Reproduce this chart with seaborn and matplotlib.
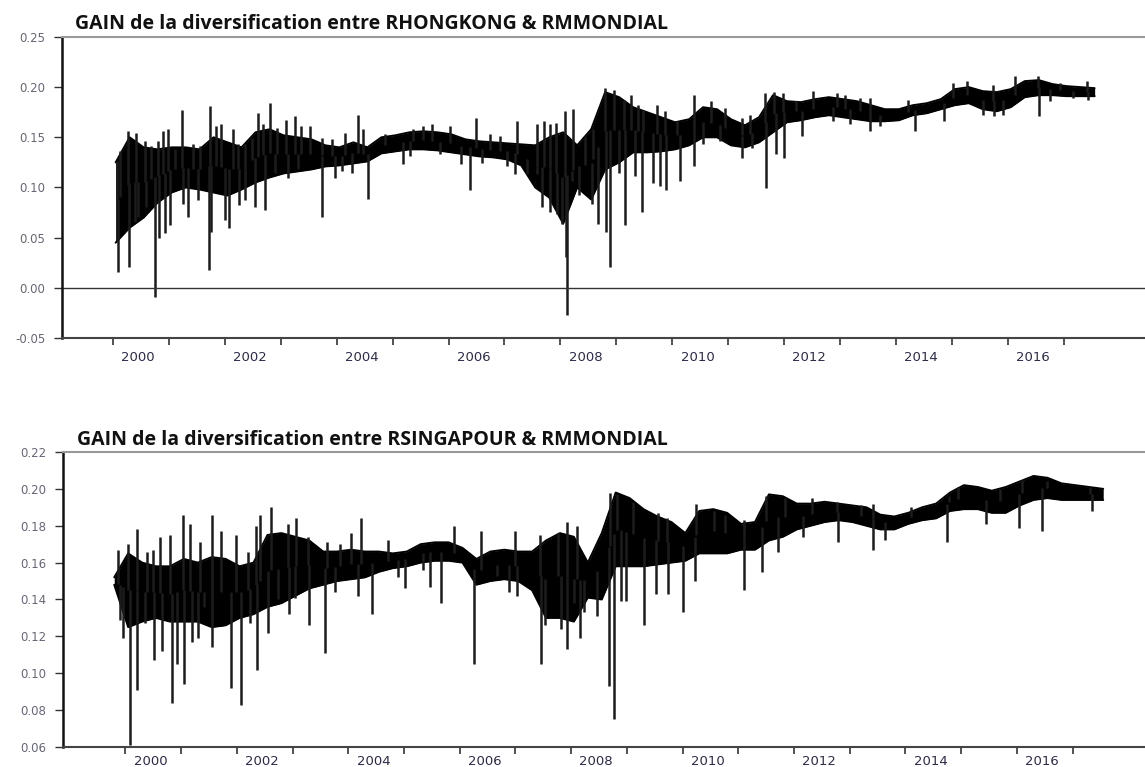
import numpy as np
import matplotlib
matplotlib.use("Agg")
import matplotlib.pyplot as plt
from matplotlib.ticker import FixedLocator, FormatStrFormatter
import seaborn as sns

# quarterly grid (decimal years) and the dense band
HK_DATES = np.arange(2000.05, 2017.56, 0.25)
HK_HIGH = [0.125, 0.150, 0.140, 0.138, 0.140, 0.140, 0.138, 0.150, 0.145, 0.140,
           0.155, 0.158, 0.152, 0.150, 0.148, 0.142, 0.140, 0.145, 0.140, 0.150,
           0.152, 0.155, 0.156, 0.155, 0.153, 0.148, 0.146, 0.145, 0.144, 0.143,
           0.142, 0.150, 0.155, 0.142, 0.158, 0.195, 0.190, 0.180, 0.175, 0.170,
           0.165, 0.168, 0.180, 0.178, 0.168, 0.162, 0.170, 0.192, 0.186, 0.185,
           0.188, 0.190, 0.188, 0.186, 0.182, 0.178, 0.178, 0.182, 0.184, 0.188,
           0.198, 0.200, 0.196, 0.195, 0.198, 0.206, 0.207, 0.203, 0.201, 0.200,
           0.199]
HK_LOW = [0.045, 0.060, 0.070, 0.085, 0.095, 0.100, 0.098, 0.095, 0.092, 0.098,
          0.105, 0.110, 0.114, 0.116, 0.118, 0.121, 0.122, 0.124, 0.126, 0.134,
          0.136, 0.138, 0.138, 0.137, 0.135, 0.133, 0.131, 0.130, 0.128, 0.122,
          0.100, 0.090, 0.064, 0.100, 0.088, 0.118, 0.125, 0.135, 0.135, 0.136,
          0.138, 0.142, 0.150, 0.150, 0.142, 0.140, 0.145, 0.155, 0.165, 0.167,
          0.170, 0.172, 0.170, 0.168, 0.166, 0.166, 0.167, 0.172, 0.174, 0.178,
          0.182, 0.184, 0.178, 0.176, 0.180, 0.190, 0.192, 0.192, 0.191, 0.191,
          0.191]
HK_SPIKE_X = [2000.07, 2000.10, 2000.12, 2000.27, 2000.29, 2000.39, 2000.42, 2000.45,
              2000.57, 2000.60, 2000.69, 2000.76, 2000.81, 2000.82, 2000.90, 2000.94,
              2000.99, 2001.03, 2001.11, 2001.24, 2001.25, 2001.35, 2001.44, 2001.52,
              2001.56, 2001.72, 2001.73, 2001.75, 2001.85, 2001.94, 2002.00, 2002.08,
              2002.15, 2002.24, 2002.25, 2002.36, 2002.37, 2002.48, 2002.54, 2002.59,
              2002.69, 2002.72, 2002.81, 2002.90, 2002.93, 2003.10, 2003.13, 2003.25,
              2003.31, 2003.37, 2003.52, 2003.73, 2003.74, 2003.91, 2003.97, 2004.10,
              2004.15, 2004.27, 2004.39, 2004.48, 2004.56, 2004.86,
              2005.19, 2005.31, 2005.37, 2005.55, 2005.70, 2005.85, 2006.03, 2006.23,
              2006.38, 2006.50, 2006.59, 2006.74, 2006.92, 2007.04, 2007.19, 2007.22,
              2007.40, 2007.58, 2007.59, 2007.67, 2007.70, 2007.81, 2007.82, 2007.93,
              2007.94, 2008.02, 2008.08, 2008.10, 2008.11, 2008.20, 2008.23, 2008.34,
              2008.44, 2008.56, 2008.59, 2008.68, 2008.80, 2008.81, 2008.89, 2008.95,
              2009.05, 2009.13, 2009.15, 2009.26, 2009.33, 2009.39, 2009.45, 2009.48,
              2009.66, 2009.72, 2009.78, 2009.87, 2009.89, 2010.08, 2010.14,
              2010.38, 2010.39, 2010.55, 2010.70, 2010.85, 2010.94, 2011.24, 2011.25,
              2011.39, 2011.42, 2011.66, 2011.67, 2011.81, 2011.85, 2011.98, 2011.99,
              2012.22, 2012.31, 2012.52, 2012.88, 2012.94, 2013.09, 2013.18, 2013.36,
              2013.53, 2013.54, 2013.71, 2014.22, 2014.34, 2014.85, 2015.02, 2015.26,
              2015.56, 2015.74, 2015.75, 2015.92, 2016.13, 2016.54, 2016.56, 2016.75,
              2016.93, 2017.17, 2017.41, 2017.44]
HK_SPIKE_Y = [0.126, 0.016, 0.136, 0.156, 0.021, 0.066, 0.154, 0.071,
              0.146, 0.081, 0.141, -0.009, 0.146, 0.050, 0.156, 0.055,
              0.158, 0.063, 0.138, 0.177, 0.084, 0.071, 0.143, 0.088,
              0.141, 0.018, 0.181, 0.056, 0.161, 0.163, 0.068, 0.060,
              0.158, 0.143, 0.083, 0.143, 0.088, 0.149, 0.081, 0.174,
              0.163, 0.078, 0.184, 0.114, 0.159, 0.167, 0.109, 0.171,
              0.118, 0.161, 0.161, 0.149, 0.071, 0.148, 0.109, 0.116,
              0.154, 0.114, 0.172, 0.158, 0.089, 0.153,
              0.123, 0.131, 0.158, 0.161, 0.163, 0.133, 0.161, 0.123,
              0.098, 0.169, 0.124, 0.153, 0.151, 0.121, 0.113, 0.166,
              0.113, 0.163, 0.113, 0.081, 0.166, 0.163, 0.076, 0.164,
              0.074, 0.064, 0.176, 0.031, -0.027, 0.106, 0.178, 0.093,
              0.151, 0.084, 0.158, 0.064, 0.199, 0.056, 0.021, 0.197,
              0.114, 0.187, 0.063, 0.192, 0.111, 0.182, 0.076, 0.177,
              0.104, 0.182, 0.101, 0.176, 0.098, 0.166, 0.106,
              0.192, 0.121, 0.143, 0.186, 0.146, 0.179, 0.169, 0.129,
              0.172, 0.139, 0.194, 0.099, 0.195, 0.133, 0.194, 0.129,
              0.186, 0.151, 0.196, 0.166, 0.194, 0.192, 0.163, 0.189,
              0.189, 0.156, 0.161, 0.187, 0.156, 0.166, 0.204, 0.206,
              0.172, 0.202, 0.171, 0.172, 0.211, 0.211, 0.171, 0.186,
              0.204, 0.189, 0.206, 0.187]

SG_DATES = np.arange(1999.8, 2017.56, 0.25)
SG_HIGH = [0.152, 0.165, 0.160, 0.158, 0.158, 0.162, 0.160, 0.163, 0.162, 0.158,
           0.160, 0.175, 0.176, 0.174, 0.172, 0.166, 0.166, 0.167, 0.166, 0.166,
           0.165, 0.166, 0.170, 0.171, 0.171, 0.168, 0.162, 0.166, 0.167, 0.166,
           0.166, 0.172, 0.176, 0.174, 0.160, 0.176, 0.198, 0.195, 0.189, 0.185,
           0.182, 0.176, 0.188, 0.189, 0.187, 0.181, 0.182, 0.197, 0.196, 0.192,
           0.192, 0.193, 0.192, 0.191, 0.190, 0.186, 0.185, 0.187, 0.190, 0.192,
           0.198, 0.202, 0.201, 0.199, 0.201, 0.204, 0.207, 0.206, 0.203, 0.202,
           0.201, 0.200]
SG_LOW = [0.148, 0.125, 0.128, 0.130, 0.128, 0.128, 0.128, 0.125, 0.126, 0.130,
          0.132, 0.136, 0.138, 0.142, 0.146, 0.148, 0.150, 0.151, 0.152, 0.155,
          0.157, 0.158, 0.160, 0.161, 0.161, 0.160, 0.148, 0.150, 0.151, 0.150,
          0.145, 0.130, 0.130, 0.128, 0.141, 0.140, 0.158, 0.158, 0.158, 0.159,
          0.160, 0.161, 0.165, 0.165, 0.165, 0.167, 0.167, 0.172, 0.174, 0.178,
          0.180, 0.182, 0.183, 0.182, 0.180, 0.178, 0.178, 0.181, 0.183, 0.184,
          0.188, 0.189, 0.189, 0.187, 0.187, 0.191, 0.194, 0.195, 0.194, 0.194,
          0.194, 0.194]
SG_SPIKE_X = [1999.87, 1999.90, 1999.96, 2000.04, 2000.08, 2000.20, 2000.21, 2000.35,
              2000.38, 2000.50, 2000.52, 2000.62, 2000.65, 2000.80, 2000.83, 2000.92,
              2001.04, 2001.05, 2001.16, 2001.19, 2001.31, 2001.34, 2001.41, 2001.55,
              2001.56, 2001.72, 2001.89, 2001.99, 2002.08, 2002.20, 2002.23, 2002.35,
              2002.36, 2002.41, 2002.56, 2002.61, 2002.74, 2002.92, 2002.93, 2003.04,
              2003.06, 2003.28, 2003.29, 2003.58, 2003.61, 2003.76, 2003.85, 2004.05,
              2004.18, 2004.23, 2004.42, 2004.72, 2004.90,
              2005.01, 2005.34, 2005.46, 2005.66, 2005.90, 2006.25, 2006.38, 2006.67,
              2006.88, 2007.00, 2007.02, 2007.45, 2007.46, 2007.53, 2007.77, 2007.81,
              2007.92, 2007.93, 2008.06, 2008.10, 2008.16, 2008.24, 2008.46, 2008.68,
              2008.69, 2008.77, 2008.83, 2008.89, 2008.99, 2009.11, 2009.31, 2009.52,
              2009.56, 2009.72, 2009.73, 2010.00, 2010.22, 2010.25, 2010.57, 2010.77,
              2011.10, 2011.11, 2011.42, 2011.50, 2011.71, 2011.83, 2012.17, 2012.32,
              2012.77, 2012.79, 2013.21, 2013.41, 2013.42, 2013.63, 2014.10, 2014.75,
              2014.79, 2014.95, 2015.44, 2015.69, 2016.03, 2016.09, 2016.46, 2016.54,
              2017.31, 2017.35]
SG_SPIKE_Y = [0.167, 0.129, 0.119, 0.170, 0.061, 0.178, 0.091, 0.127,
              0.166, 0.167, 0.107, 0.174, 0.112, 0.175, 0.084, 0.105,
              0.186, 0.094, 0.181, 0.117, 0.119, 0.171, 0.136, 0.186,
              0.114, 0.177, 0.092, 0.175, 0.083, 0.166, 0.127, 0.180,
              0.102, 0.186, 0.122, 0.190, 0.140, 0.181, 0.132, 0.141,
              0.184, 0.174, 0.126, 0.111, 0.171, 0.144, 0.170, 0.176,
              0.142, 0.184, 0.132, 0.172, 0.152,
              0.146, 0.156, 0.147, 0.138, 0.180, 0.105, 0.177, 0.153,
              0.144, 0.177, 0.142, 0.175, 0.105, 0.126, 0.176, 0.124,
              0.113, 0.182, 0.138, 0.180, 0.119, 0.133, 0.131, 0.093,
              0.198, 0.075, 0.197, 0.139, 0.139, 0.193, 0.126, 0.143,
              0.187, 0.184, 0.143, 0.133, 0.150, 0.192, 0.188, 0.186,
              0.183, 0.145, 0.155, 0.196, 0.166, 0.195, 0.174, 0.195,
              0.193, 0.171, 0.191, 0.192, 0.167, 0.172, 0.190, 0.171,
              0.196, 0.201, 0.181, 0.200, 0.179, 0.205, 0.177, 0.204,
              0.201, 0.188]

YEARS = list(range(2000, 2018))
LABEL_YEARS = list(range(2000, 2017, 2))

sns.set_style("ticks")
plt.rcParams["font.family"] = ["DejaVu Sans"]


def draw_panel(ax, dates, high, low, spike_x, spike_y, xlim, ylim, yticks, label_pad):
    high = np.asarray(high)
    low = np.asarray(low)
    ax.fill_between(dates, low, high, color="black", lw=0)
    sns.lineplot(x=dates, y=high, color="black", lw=1.4, ax=ax)
    sns.lineplot(x=dates, y=low, color="black", lw=1.4, ax=ax)
    base = np.interp(spike_x, dates, (high + low) / 2)
    ax.vlines(spike_x, base, spike_y, color="#1c1c1c", lw=1.8)

    ax.set_xlim(*xlim)
    ax.set_ylim(*ylim)
    ax.set_yticks(yticks)
    ax.yaxis.set_major_formatter(FormatStrFormatter("%.2f"))
    # year boundaries carry the tick marks, labels sit in the middle of the year
    ax.set_xticks(YEARS)
    ax.set_xticklabels([])
    ax.xaxis.set_minor_locator(FixedLocator([y + 0.45 for y in LABEL_YEARS]))
    ax.set_xticklabels([str(y) for y in LABEL_YEARS], minor=True)
    ax.tick_params(axis="x", which="major", length=5, width=1.2, color="#333")
    ax.tick_params(axis="x", which="minor", length=0, pad=label_pad, labelsize=9.5,
                   labelcolor="#2b2b4a")
    ax.tick_params(axis="y", length=6, width=1, color="#333", pad=6,
                   labelsize=8.5, labelcolor="#666677")
    ax.set_xlabel("")
    ax.set_ylabel("")
    ax.spines["left"].set_color("#111")
    ax.spines["left"].set_linewidth(1.8)
    ax.spines["bottom"].set_color("#444")
    ax.spines["bottom"].set_linewidth(1.5)
    ax.spines["top"].set_visible(True)
    ax.spines["top"].set_color("#999")
    ax.spines["top"].set_linewidth(1.5)
    ax.spines["right"].set_visible(False)


fig = plt.figure(figsize=(11.45, 7.67), dpi=100)
ax1 = fig.add_axes([0.0541, 0.5593, 0.9459, 0.3925])
ax2 = fig.add_axes([0.0550, 0.0261, 0.9450, 0.3846])

draw_panel(ax1, HK_DATES, HK_HIGH, HK_LOW, HK_SPIKE_X, HK_SPIKE_Y,
           (1999.09, 2018.45), (-0.05, 0.25), np.arange(-0.05, 0.2501, 0.05), 9)
ax1.axhline(0, color="#333", lw=1)

draw_panel(ax2, SG_DATES, SG_HIGH, SG_LOW, SG_SPIKE_X, SG_SPIKE_Y,
           (1998.88, 2018.3), (0.06, 0.22), np.arange(0.06, 0.2201, 0.02), 6)

title_font = dict(family="Open Sans", fontweight="bold", fontsize=14, color="#111")
fig.text(75 / 1145, 1 - 29 / 767, "GAIN de la diversification entre RHONGKONG & RMMONDIAL",
         va="baseline", **title_font)
fig.text(77 / 1145, 1 - 445 / 767, "GAIN de la diversification entre RSINGAPOUR & RMMONDIAL",
         va="baseline", **title_font)

fig.savefig("out.png", dpi=100)
